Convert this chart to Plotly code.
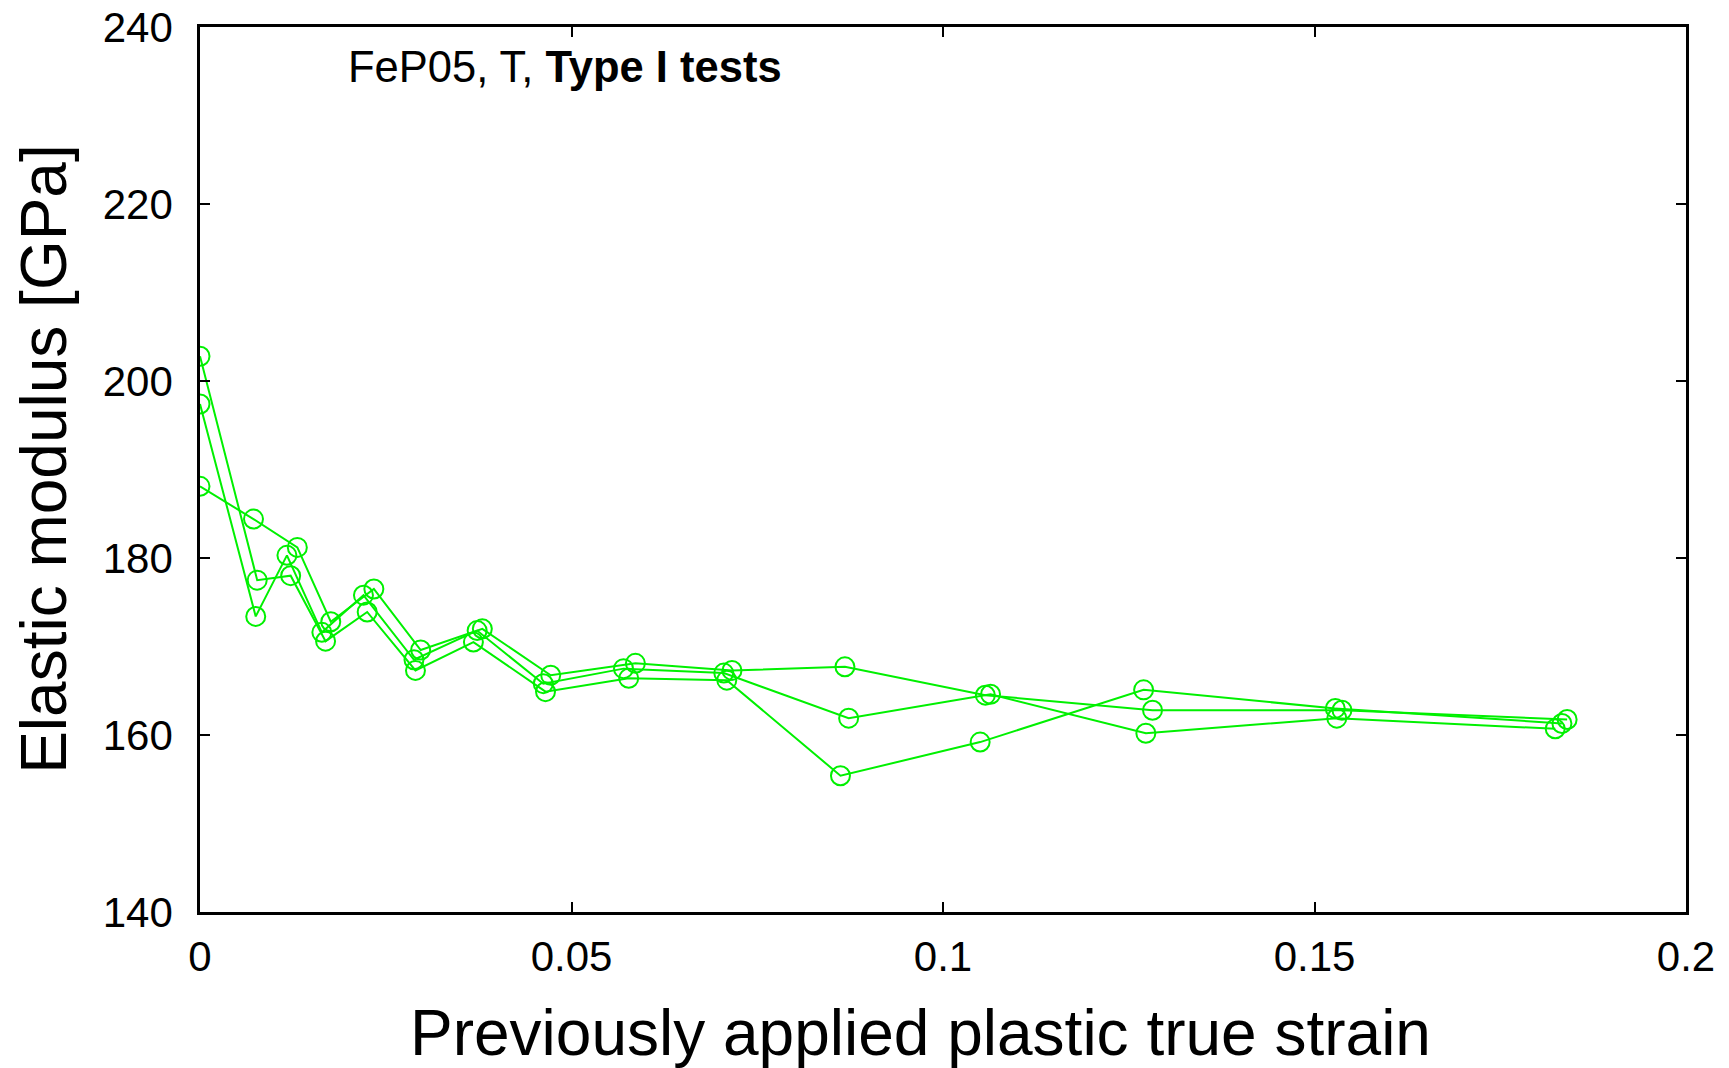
import plotly.graph_objects as go

# Series values
strain_a = [0.0, 0.0077, 0.0122, 0.0169, 0.0225, 0.0290, 0.0368, 0.0465, 0.0577, 0.0709, 0.0862, 0.1050, 0.1270, 0.1528, 0.1833]
modulus_a = [202.8, 177.5, 178.0, 170.6, 173.9, 167.3, 170.5, 164.9, 166.4, 166.2, 155.4, 159.2, 165.1, 163.0, 161.3]

strain_b = [0.0, 0.0075, 0.0117, 0.0164, 0.0220, 0.0288, 0.0373, 0.0462, 0.0570, 0.0705, 0.0873, 0.1064, 0.1273, 0.1530, 0.1824]
modulus_b = [197.4, 173.4, 180.3, 171.6, 175.8, 168.5, 171.8, 165.8, 167.5, 167.0, 161.9, 164.6, 160.2, 161.9, 160.7]

strain_c = [0.0, 0.0072, 0.0131, 0.0176, 0.0234, 0.0297, 0.0380, 0.0472, 0.0586, 0.0716, 0.0868, 0.1057, 0.1282, 0.1537, 0.1840]
modulus_c = [188.1, 184.4, 181.2, 172.8, 176.5, 169.6, 172.0, 166.75, 168.1, 167.3, 167.7, 164.5, 162.8, 162.8, 161.75]

x_ticks = [0, 0.05, 0.1, 0.15, 0.2]
x_tick_labels = ["0", "0.05", "0.1", "0.15", "0.2"]
y_ticks = [140, 160, 180, 200, 220, 240]
y_tick_labels = ["140", "160", "180", "200", "220", "240"]

GREEN = "#00f000"
FONT = "Liberation Sans, Arial, sans-serif"

fig = go.Figure()
for xs, ys in [(strain_a, modulus_a), (strain_b, modulus_b), (strain_c, modulus_c)]:
    fig.add_trace(go.Scatter(
        x=xs, y=ys, mode="lines+markers",
        line=dict(color=GREEN, width=2),
        marker=dict(symbol="circle-open", size=19, color=GREEN, line=dict(width=2, color=GREEN)),
        showlegend=False,
    ))

axis_common = dict(
    showgrid=False, zeroline=False, showline=True, linecolor="black", linewidth=2.5,
    mirror="allticks", ticks="inside", ticklen=10, tickwidth=2, tickcolor="black",
    tickfont=dict(family=FONT, size=42, color="black"), automargin=False,
)

fig.update_layout(
    width=1729, height=1068,
    paper_bgcolor="white", plot_bgcolor="white",
    margin=dict(l=200, r=43, t=27, b=156),
    xaxis=dict(range=[0, 0.2], tickvals=x_ticks, ticktext=x_tick_labels, ticklabelstandoff=6, **axis_common),
    yaxis=dict(range=[140, 240], tickvals=y_ticks, ticktext=y_tick_labels, ticklabelstandoff=16, **axis_common),
    annotations=[
        dict(text="FeP05, T, <b>Type I tests</b>", x=0.098, y=0.955, xref="paper", yref="paper",
             xanchor="left", yanchor="middle", showarrow=False,
             font=dict(family=FONT, size=43.5, color="black")),
        dict(text="Previously applied plastic true strain", x=0.485, y=-0.137, xref="paper", yref="paper",
             xanchor="center", yanchor="middle", showarrow=False,
             font=dict(family=FONT, size=64, color="black")),
        dict(text="Elastic modulus [GPa]", x=-0.105, y=0.512, xref="paper", yref="paper",
             xanchor="center", yanchor="middle", showarrow=False, textangle=-90,
             font=dict(family=FONT, size=64, color="black")),
    ],
)

fig.write_html("out.html", config={"displayModeBar": False},
               post_script="document.body.style.margin='0';document.body.style.padding='0';document.body.style.overflow='hidden';")
